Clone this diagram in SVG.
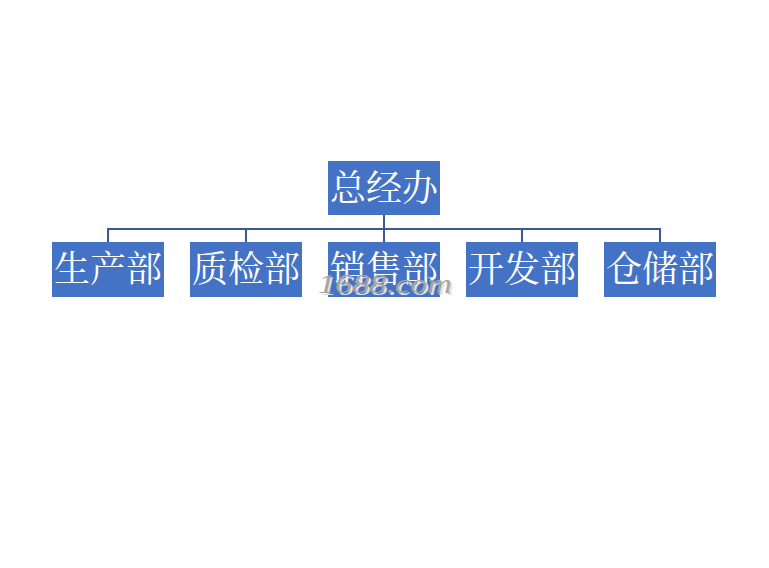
<svg xmlns="http://www.w3.org/2000/svg" width="769" height="568" viewBox="0 0 769 568">
<style>
.box{fill:#4472c4}
.lbl{fill:#ffffff;font-family:"Noto Serif CJK SC","Noto Sans CJK SC",serif;font-size:36px;text-anchor:middle}
.conn{stroke:#3b5a92;stroke-width:2;fill:none}
.wm{font-family:"Liberation Serif",serif;font-style:italic;font-size:27px}
</style>
<rect width="769" height="568" fill="#ffffff"/>
<g id="connectors">
<path class="conn" d="M384 215V229M108 229H660M108 228V242M246 228V242M384 228V242M522 228V242M660 228V242"/>
</g>
<g id="n0"><rect class="box" x="328" y="161" width="112" height="54"/><text class="lbl" x="384" y="201">总经办</text></g>
<g id="n1"><rect class="box" x="52" y="242" width="112" height="55"/><text class="lbl" x="108" y="282">生产部</text></g>
<g id="n2"><rect class="box" x="190" y="242" width="112" height="55"/><text class="lbl" x="246" y="282">质检部</text></g>
<g id="n3"><rect class="box" x="328" y="242" width="112" height="55"/><text class="lbl" x="384" y="282">销售部</text></g>
<g id="n4"><rect class="box" x="466" y="242" width="112" height="55"/><text class="lbl" x="522" y="282">开发部</text></g>
<g id="n5"><rect class="box" x="604" y="242" width="112" height="55"/><text class="lbl" x="660" y="282">仓储部</text></g>
<g id="watermark">
<text class="wm" x="320" y="295" fill="#e0e0e0" textLength="134" lengthAdjust="spacingAndGlyphs">1688.com</text>
<text class="wm" x="318" y="293" fill="#a4a4a4" textLength="134" lengthAdjust="spacingAndGlyphs">1688.com</text>
</g>
</svg>
